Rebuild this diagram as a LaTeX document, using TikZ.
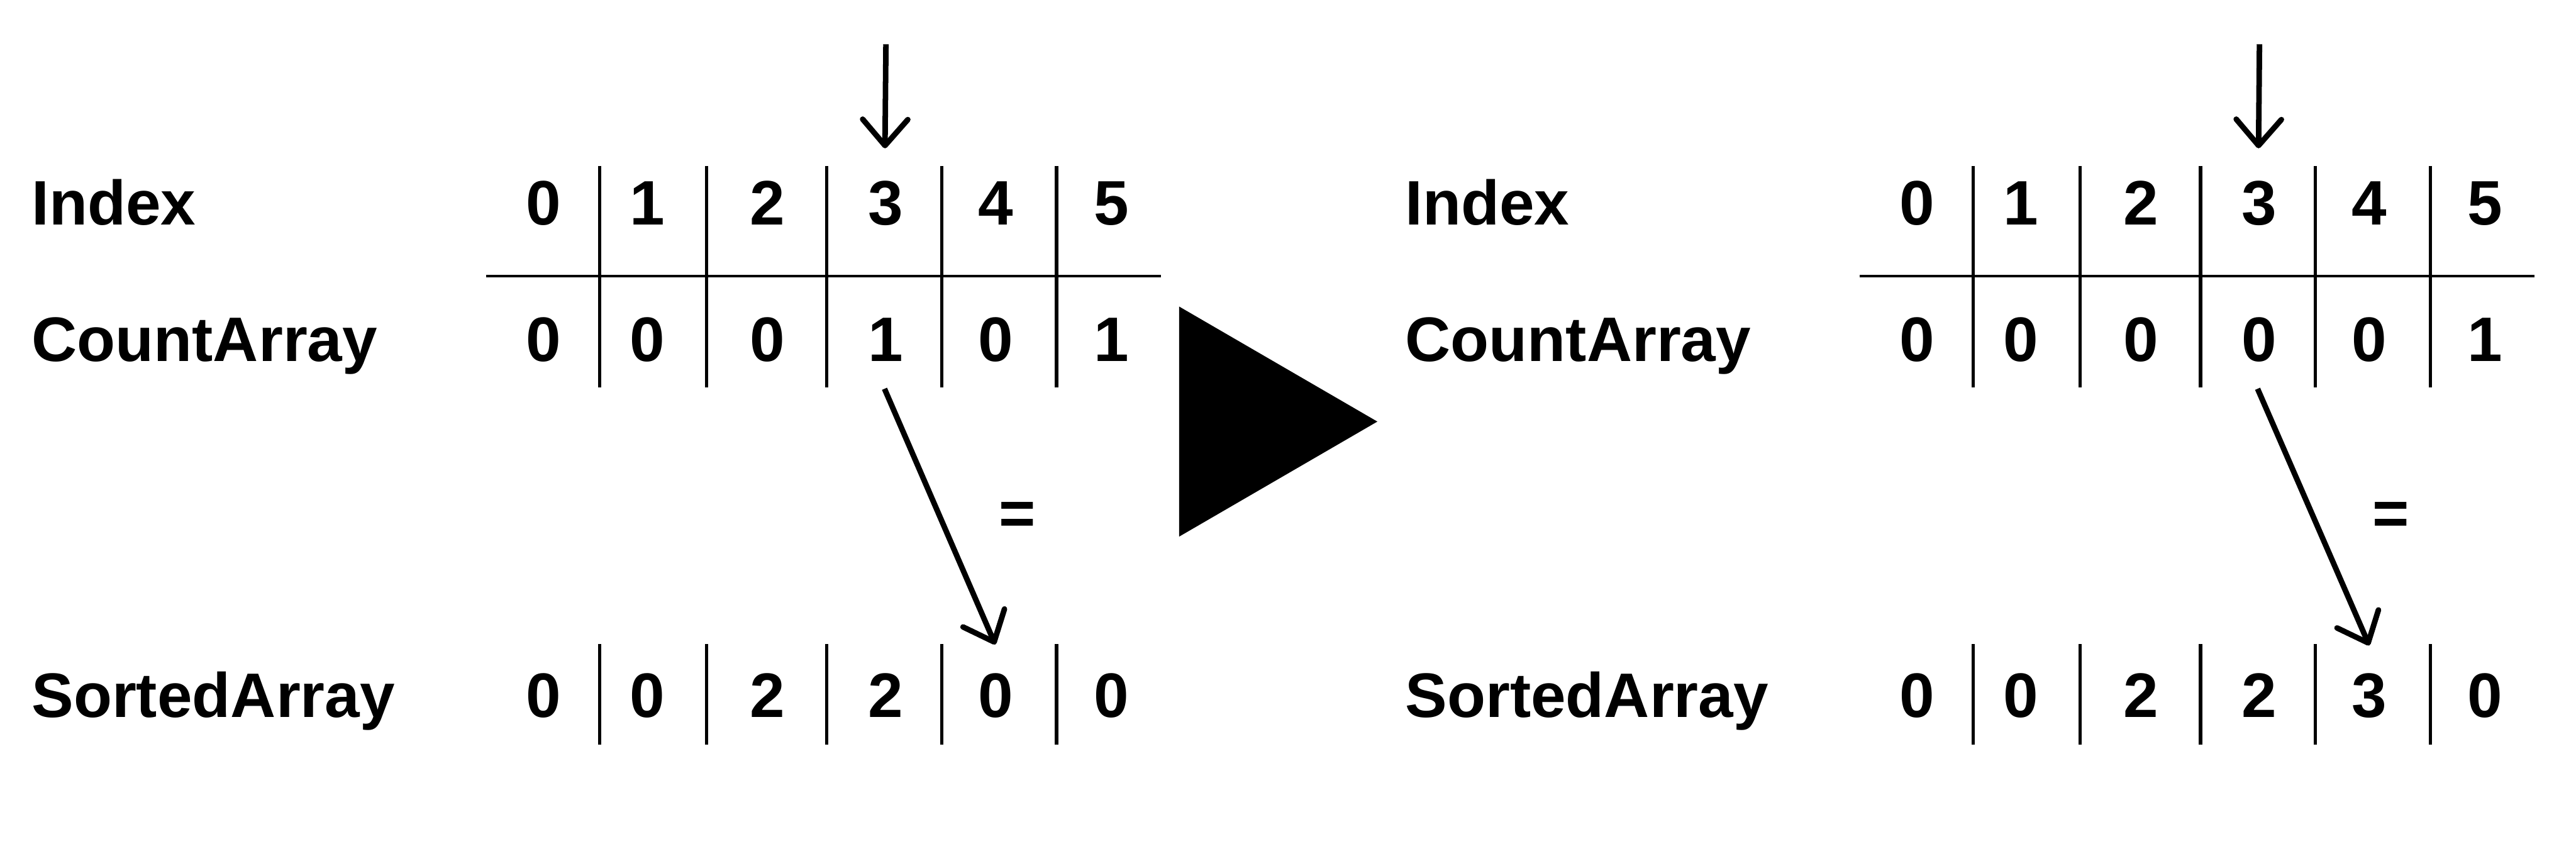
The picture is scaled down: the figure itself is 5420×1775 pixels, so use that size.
\documentclass[tikz,border=0pt]{standalone}
\usepackage{fontspec}
\setmainfont{Liberation Sans}
\usetikzlibrary{arrows.meta}
\begin{document}
\begin{tikzpicture}[x=0.01cm,y=-0.01cm,
  lbl/.style={anchor=base west, inner sep=0pt, font=\fontsize{37.6}{44}\selectfont\bfseries},
  num/.style={anchor=base, inner sep=0pt, font=\fontsize{37.6}{44}\selectfont\bfseries},
  sepline/.style={line width=1.9pt},
  rule/.style={line width=1.75pt},
  ptr/.style={line width=3.3pt, -{Straight Barb[length=0.55cm,width=0.95cm,round]}},
  playtri/.style={fill=black}
]
\useasboundingbox (0,0) rectangle (5420,1775);

% ---------- left panel ----------
\node[lbl] (Lidx) at (66,473) {Index};
\node[lbl] (Lcnt) at (66,760) {CountArray};
\node[lbl] (Lsrt) at (66,1509) {SortedArray};
\foreach \x/\v [count=\i from 0] in {1143/0,1362/1,1615/2,1864/3,2095/4,2339/5}
  \node[num] (Li\i) at (\x,473) {\v};
\foreach \x/\v [count=\i from 0] in {1143/0,1362/0,1615/0,1864/1,2095/0,2339/1}
  \node[num] (Lc\i) at (\x,760) {\v};
\foreach \x/\v [count=\i from 0] in {1143/0,1362/0,1615/2,1864/2,2095/0,2339/0}
  \node[num] (Ls\i) at (\x,1509) {\v};
\foreach \x in {1262,1487,1740,1982,2223} {
  \draw[sepline] (\x,349) -- (\x,815);
  \draw[sepline] (\x,1355) -- (\x,1567);
}
\draw[rule] (1023,581) -- (2443,581);
\coordinate (Ltop) at (1864,93);
\coordinate (Ltip) at (1862,312);
\draw[ptr] (Ltop) -- (Ltip);
\coordinate (Lfrom) at (1861,818);
\coordinate (Lto) at (2094,1356);
\draw[ptr] (Lfrom) -- (Lto);
\node[num] (Leq) at (2141,1126) {=};

% ---------- play triangle ----------
\fill[playtri] (2481,645) -- (2898,887) -- (2481,1129) -- cycle;

% ---------- right panel ----------
\begin{scope}[shift={(2890,0)}]
\node[lbl] (Ridx) at (66,473) {Index};
\node[lbl] (Rcnt) at (66,760) {CountArray};
\node[lbl] (Rsrt) at (66,1509) {SortedArray};
\foreach \x/\v [count=\i from 0] in {1143/0,1362/1,1615/2,1864/3,2095/4,2339/5}
  \node[num] (Ri\i) at (\x,473) {\v};
\foreach \x/\v [count=\i from 0] in {1143/0,1362/0,1615/0,1864/0,2095/0,2339/1}
  \node[num] (Rc\i) at (\x,760) {\v};
\foreach \x/\v [count=\i from 0] in {1143/0,1362/0,1615/2,1864/2,2095/3,2339/0}
  \node[num] (Rs\i) at (\x,1509) {\v};
\foreach \x in {1262,1487,1740,1982,2223} {
  \draw[sepline] (\x,349) -- (\x,815);
  \draw[sepline] (\x,1355) -- (\x,1567);
}
\draw[rule] (1023,581) -- (2443,581);
\coordinate (Rtop) at (1864,93);
\coordinate (Rtip) at (1862,312);
\draw[ptr] (Rtop) -- (Rtip);
\coordinate (Rfrom) at (1860,818);
\coordinate (Rto) at (2095,1358);
\draw[ptr] (Rfrom) -- (Rto);
\node[num] (Req) at (2141,1126) {=};
\end{scope}
\end{tikzpicture}
\end{document}
